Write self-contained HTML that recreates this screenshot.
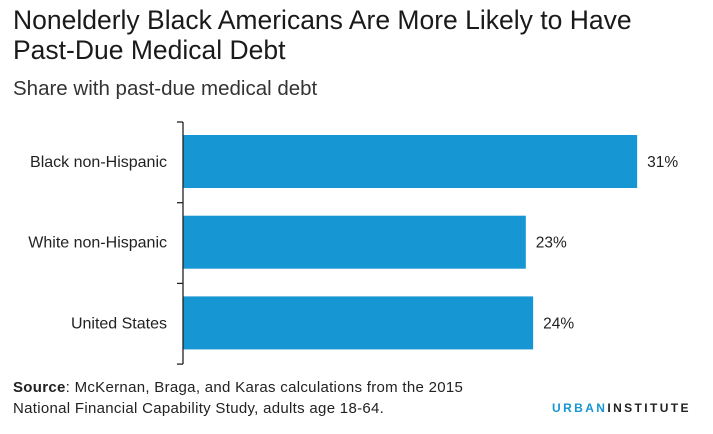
<!DOCTYPE html>
<html><head><style>
body{margin:0;background:#fff;font-family:"Liberation Sans",sans-serif;}
#wrap{position:relative;width:713px;height:434px;overflow:hidden;}
.t{position:absolute;white-space:nowrap;color:#222;}
</style></head><body>
<div id="wrap">
<div class="t" style="left:13px;top:5px;font-size:26.5px;line-height:30px;color:#1a1a1a;">Nonelderly Black Americans Are More Likely to Have<br>Past-Due Medical Debt</div>
<div class="t" style="left:13px;top:77px;font-size:20.5px;color:#333;">Share with past-due medical debt</div>
<svg id="chart" width="713" height="434" style="position:absolute;left:0;top:0"></svg>
<div class="t" style="left:13px;top:377px;font-size:15px;line-height:21px;letter-spacing:0.3px;color:#222;"><b>Source</b>: McKernan, Braga, and Karas calculations from the 2015<br>National Financial Capability Study, adults age 18-64.</div>
<div class="t" style="left:552px;top:401px;font-size:12px;font-weight:bold;letter-spacing:2.4px;"><span style="color:#1696d2">URBAN</span><span style="color:#222">INSTITUTE</span></div>
</div>
<script>
const categories=["Black non-Hispanic","White non-Hispanic","United States"];
const values=[31,23.4,23.9];
const valueLabels=["31%","23%","24%"];
const ns="http://www.w3.org/2000/svg";
const svg=document.getElementById('chart');
const x0=183, pxPer=14.65, top0=122, band=80.7;
const xs=v=>x0+v*pxPer;
function mk(t,a){const e=document.createElementNS(ns,t);for(const k in a)e.setAttribute(k,a[k]);svg.appendChild(e);return e;}
categories.forEach((c,i)=>{
  const y=top0+i*band;
  const b=mk('rect',{x:x0,y:y+13,width:xs(values[i])-x0,height:53,fill:'#1696d2'});
  
  
  const l=mk('text',{x:167,y:y+45,'text-anchor':'end','font-size':16,fill:'#222','font-family':'Liberation Sans'});
  l.textContent=c;
  
  
  const v=mk('text',{x:xs(values[i])+10,y:y+45,'font-size':15.5,fill:'#222','font-family':'Liberation Sans'});
  v.textContent=valueLabels[i];
  
  
});
const ax=mk('line',{x1:x0,x2:x0,y1:top0,y2:top0+band*3,stroke:'#222','stroke-width':1.3});


for(let i=0;i<=3;i++){
  const t=mk('line',{x1:x0-6,x2:x0,y1:top0+i*band,y2:top0+i*band,stroke:'#222','stroke-width':1.3});
  
  
}
</script>
</body></html>
